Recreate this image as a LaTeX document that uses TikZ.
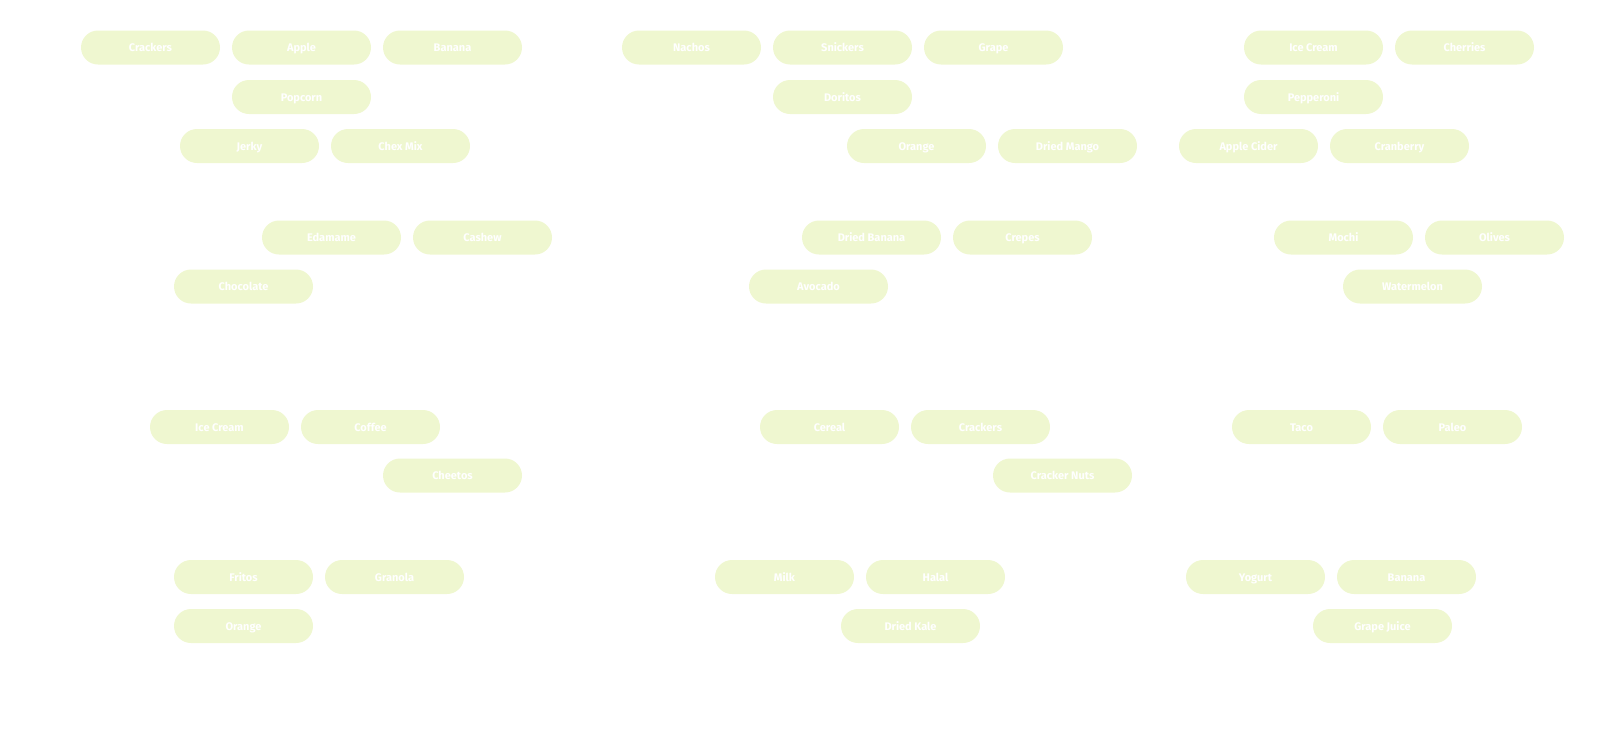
\documentclass[tikz,border=0pt]{standalone}
\usepackage{fontspec}
\setmainfont{Fira Sans}
\definecolor{pillfill}{HTML}{EFF7D0}
\tikzset{
  pill/.style={fill=pillfill, draw=none, rounded corners=17pt, minimum width=139pt, minimum height=34pt, inner sep=0pt, text height=9.5pt, text depth=1.5pt, text=white, font=\fontsize{11}{13}\selectfont\bfseries}
}
\begin{document}
\begin{tikzpicture}[x=1pt,y=-1pt]
\useasboundingbox (0,0) rectangle (1600,750);
% group 1
\node[pill] (crackersA) at (150.5,47.5) {Crackers};
\node[pill] (appleA) at (301.5,47.5) {Apple};
\node[pill] (bananaA) at (452.5,47.5) {Banana};
\node[pill] (popcorn) at (301.5,97) {Popcorn};
\node[pill] (jerky) at (249.5,146) {Jerky};
\node[pill] (chexmix) at (400.5,146) {Chex Mix};
% group 2
\node[pill] (nachos) at (691.5,47.5) {Nachos};
\node[pill] (snickers) at (842.5,47.5) {Snickers};
\node[pill] (grape) at (993.5,47.5) {Grape};
\node[pill] (doritos) at (842.5,97) {Doritos};
\node[pill] (orangeA) at (916.5,146) {Orange};
\node[pill] (driedmango) at (1067.5,146) {Dried Mango};
% group 3
\node[pill] (icecreamA) at (1313.5,47.5) {Ice Cream};
\node[pill] (cherries) at (1464.5,47.5) {Cherries};
\node[pill] (pepperoni) at (1313.5,97) {Pepperoni};
\node[pill] (applecider) at (1248.5,146) {Apple Cider};
\node[pill] (cranberry) at (1399.5,146) {Cranberry};
% group 4
\node[pill] (edamame) at (331.5,237.5) {Edamame};
\node[pill] (cashew) at (482.5,237.5) {Cashew};
\node[pill] (chocolate) at (243.5,286.5) {Chocolate};
% group 5
\node[pill] (driedbanana) at (871.5,237.5) {Dried Banana};
\node[pill] (crepes) at (1022.5,237.5) {Crepes};
\node[pill] (avocado) at (818.5,286.5) {Avocado};
% group 6
\node[pill] (mochi) at (1343.5,237.5) {Mochi};
\node[pill] (olives) at (1494.5,237.5) {Olives};
\node[pill] (watermelon) at (1412.5,286.5) {Watermelon};
% group 7
\node[pill] (icecreamB) at (219.5,427) {Ice Cream};
\node[pill] (coffee) at (370.5,427) {Coffee};
\node[pill] (cheetos) at (452.5,475.5) {Cheetos};
% group 8
\node[pill] (cereal) at (829.5,427) {Cereal};
\node[pill] (crackersB) at (980.5,427) {Crackers};
\node[pill] (crackernuts) at (1062.5,475.5) {Cracker Nuts};
% group 9
\node[pill] (taco) at (1301.5,427) {Taco};
\node[pill] (paleo) at (1452.5,427) {Paleo};
% group 10
\node[pill] (fritos) at (243.5,577) {Fritos};
\node[pill] (granola) at (394.5,577) {Granola};
\node[pill] (orangeB) at (243.5,626) {Orange};
% group 11
\node[pill] (milk) at (784.5,577) {Milk};
\node[pill] (halal) at (935.5,577) {Halal};
\node[pill] (driedkale) at (910.5,626) {Dried Kale};
% group 12
\node[pill] (yogurt) at (1255.5,577) {Yogurt};
\node[pill] (bananaB) at (1406.5,577) {Banana};
\node[pill] (grapejuice) at (1382.5,626) {Grape Juice};
\end{tikzpicture}
\end{document}
